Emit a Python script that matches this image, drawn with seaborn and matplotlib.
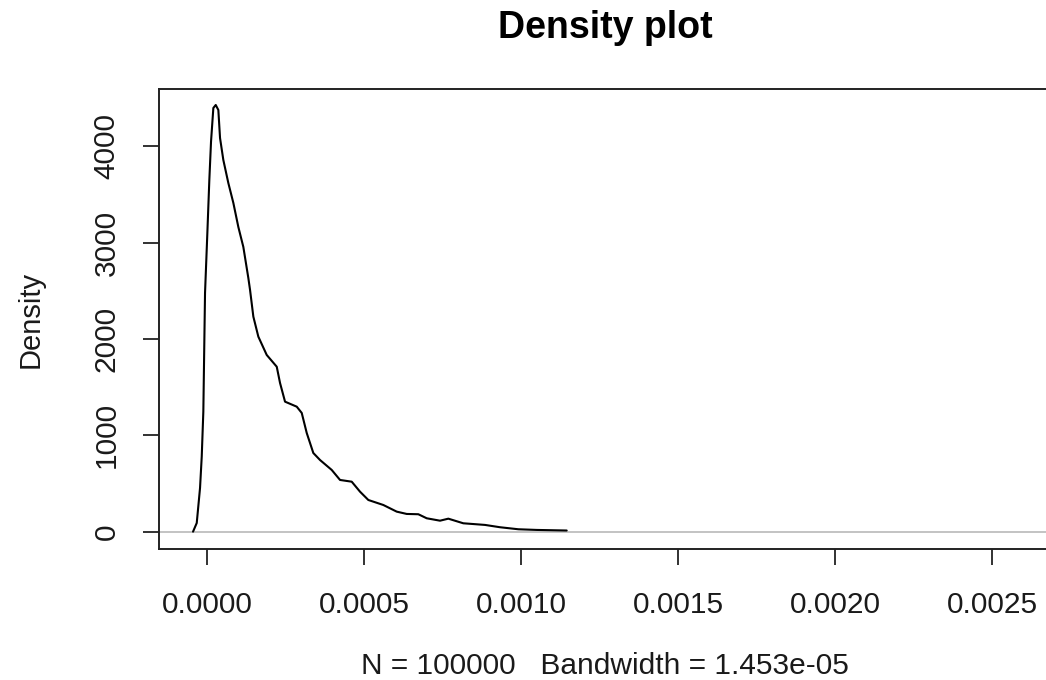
import numpy as np
import pandas as pd
import matplotlib
matplotlib.use("Agg")
import matplotlib.pyplot as plt
import seaborn as sns

# Density estimate
density_x = [-0.0000446, -0.0000328, -0.0000223, -0.0000169, -0.0000118, -0.0000064,
             0.0000010, 0.0000073, 0.0000127, 0.0000201, 0.0000277, 0.0000360,
             0.0000414, 0.0000519, 0.0000678, 0.0000838, 0.0000997, 0.0001156,
             0.0001315, 0.0001370, 0.0001475, 0.0001634, 0.0001901, 0.0002220,
             0.0002325, 0.0002484, 0.0002857, 0.0003016, 0.0003175, 0.0003385,
             0.0003599, 0.0003971, 0.0004236, 0.0004608, 0.0004873, 0.0005137,
             0.0005615, 0.0006041, 0.0006360, 0.0006729, 0.0006997, 0.0007420,
             0.0007685, 0.0008162, 0.0008854, 0.0009331, 0.0009914, 0.0010500,
             0.0011455]
density_y = [0, 90, 454, 779, 1246, 2479,
             3102, 3652, 4050, 4400, 4431, 4379,
             4088, 3860, 3621, 3414, 3164, 2957,
             2635, 2510, 2233, 2025, 1835, 1713,
             1544, 1350, 1298, 1233, 1025, 817,
             744, 641, 537, 519, 415, 329,
             277, 208, 184, 181, 139, 114,
             135, 87, 70, 46, 25, 18,
             12]

x_ticks = [0.0000, 0.0005, 0.0010, 0.0015, 0.0020, 0.0025]
x_tick_labels = ["0.0000", "0.0005", "0.0010", "0.0015", "0.0020", "0.0025"]
y_ticks = [0, 1000, 2000, 3000, 4000]
y_tick_labels = ["0", "1000", "2000", "3000", "4000"]

title = "Density plot"
x_label = "N = 100000   Bandwidth = 1.453e-05"
y_label = "Density"

sns.set_theme(style="white")
plt.rcParams["font.family"] = ["Liberation Sans", "DejaVu Sans"]

fig = plt.figure(figsize=(10.46, 6.80), dpi=100)
W, H = 1046, 680
left, right, top, bottom = 159, 1051, 89, 549
ax = fig.add_axes([left / W, 1 - bottom / H, (right - left) / W, (bottom - top) / H])

df = pd.DataFrame({"x": density_x, "y": density_y})
ax.axhline(0, color="#bebebe", lw=1.3, zorder=1)
sns.lineplot(data=df, x="x", y="y", sort=False, color="black", lw=1.5, ax=ax, zorder=2)

ax.set_xlim(-0.000153, 0.002688)
ax.set_ylim(-180, 4597)

ax.set_xticks(x_ticks)
ax.set_xticklabels(x_tick_labels)
ax.set_yticks(y_ticks)
ax.set_yticklabels(y_tick_labels, rotation=90, va="center")

ax.tick_params(axis="both", which="major", direction="out", length=11.5, width=1.3,
               color="#222222", labelsize=21.5, labelcolor="#1a1a1a", bottom=True, left=True)
ax.tick_params(axis="x", pad=18.5)
ax.tick_params(axis="y", pad=16)

for s in ax.spines.values():
    s.set_color("#222222")
    s.set_linewidth(1.4)

ax.set_title(title, fontsize=27, fontweight="bold", pad=37, color="black")
ax.set_xlabel(x_label, fontsize=21.5, labelpad=24, color="#1a1a1a")
ax.set_ylabel(y_label, fontsize=21, labelpad=35, color="#1a1a1a")
ax.grid(False)

fig.savefig("out.png", dpi=100)
